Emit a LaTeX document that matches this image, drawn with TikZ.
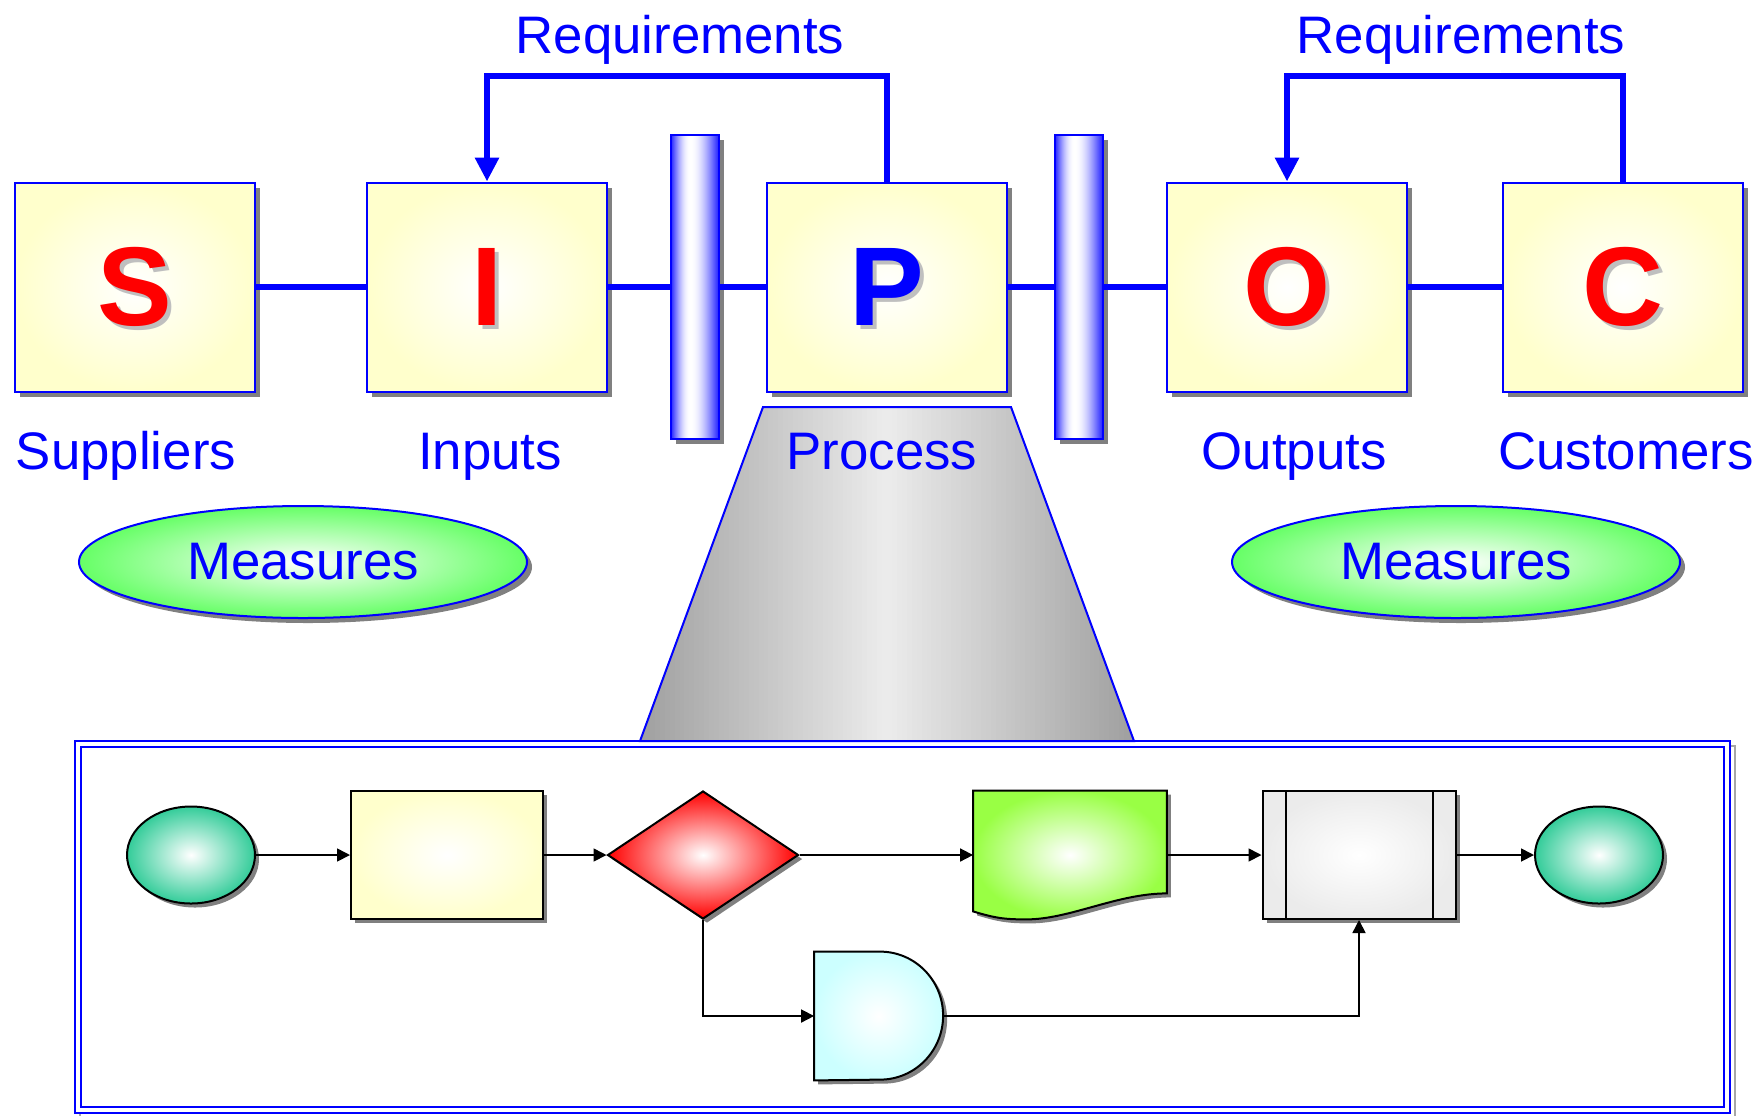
\documentclass[tikz,border=0pt]{standalone}
\usepackage{fontspec}
\setmainfont{Liberation Sans}
\usetikzlibrary{shapes, arrows.meta, positioning, calc, shadows}
\definecolor{boxYellow}{RGB}{255, 255, 204}
\definecolor{measureGreen}{RGB}{102, 255, 102}
\definecolor{termTeal}{RGB}{51, 204, 153}
\definecolor{docGreen}{RGB}{153, 255, 68}
\definecolor{waitCyan}{RGB}{204, 255, 255}
\definecolor{subGray}{RGB}{235, 235, 235}
\definecolor{funnelDark}{RGB}{160, 160, 160}
\definecolor{funnelLight}{RGB}{236, 236, 236}
\definecolor{gateBlue}{RGB}{40, 40, 255}
\definecolor{shadowGray}{RGB}{128, 128, 128}

\newcommand{\sipocletter}[2]{\makebox[0pt][l]{\hspace*{2pt}\smash{\raisebox{-2pt}{\color{black!25}#2}}}\textcolor{#1}{#2}}
\newcommand{\docoutline}{(doc.north west) -- (doc.north east) -- ([yshift=13pt]doc.south east)
  .. controls +(-25pt,0pt) and +(22pt,0pt) .. ([xshift=-22pt]doc.south)
  .. controls +(-12pt,0pt) and +(10pt,-3pt) .. ([yshift=4pt]doc.south west) -- cycle}
\newcommand{\waitoutline}{(wait.north west) -- ++(33pt,0pt)
  arc[start angle=90, end angle=-90, x radius=31.5pt, y radius=32pt] -- (wait.south west) -- cycle}

\begin{document}
\begin{tikzpicture}[
                x=0.5pt, y=-0.5pt,
                stage/.style={rectangle, draw=blue, line width=1pt, minimum width=120pt, minimum height=104.5pt,
                    inner color=white, outer color=boxYellow,
                    general shadow={fill=shadowGray, shadow xshift=2.5pt, shadow yshift=-2.5pt},
                    font=\fontsize{56pt}{60pt}\selectfont\bfseries},
                gate/.style={rectangle, outer sep=0pt, minimum width=24pt, minimum height=152pt, fill=white,
                    general shadow={fill=shadowGray, shadow xshift=2.5pt, shadow yshift=-2.5pt}},
                stagename/.style={text=blue, font=\fontsize{26.4pt}{30pt}\selectfont, inner sep=0pt, anchor=base},
                measure/.style={ellipse, draw=blue, line width=1pt, minimum width=224pt, minimum height=56pt, inner sep=0pt,
                    inner color=white, outer color=measureGreen, text=blue, font=\fontsize{26.4pt}{30pt}\selectfont,
                    general shadow={fill=shadowGray, shadow xshift=2.5pt, shadow yshift=-2.5pt}},
                link/.style={blue, line width=2.75pt},
                req/.style={blue, line width=3pt, -{Triangle[length=12pt, width=11.5pt]}},
                flow/.style={black, line width=0.85pt, -{Triangle[length=6.5pt, width=6.5pt]}},
                fshadow/.style={general shadow={fill=shadowGray, shadow xshift=2pt, shadow yshift=-2pt}},
                term/.style={ellipse, draw, line width=1pt, minimum width=64pt, minimum height=48.5pt, inner sep=0pt,
                    inner color=white, outer color=termTeal, fshadow},
                task/.style={rectangle, draw, line width=1pt, minimum width=96pt, minimum height=64pt, inner sep=0pt,
                    inner color=white, outer color=boxYellow, fshadow},
                decide/.style={diamond, draw, line width=1pt, minimum width=95.5pt, minimum height=64pt, inner sep=0pt,
                    inner color=white, outer color=red, fshadow},
                subproc/.style={rectangle, draw, line width=1pt, minimum width=96.5pt, minimum height=64pt, inner sep=0pt,
                    inner color=white, outer color=subGray, fshadow},
                slot/.style={rectangle, minimum height=64pt, inner sep=0pt}
            ]
                \useasboundingbox (0,0) rectangle (1760,1115);

                \node[stage] (sup) at (135,287) {\sipocletter{red}{S}};
                \node[stage] (inp) at (487,287) {\sipocletter{red}{I}};
                \node[stage] (pro) at (887,287) {\sipocletter{blue}{P}};
                \node[stage] (out) at (1287,287) {\sipocletter{red}{O}};
                \node[stage] (cus) at (1623,287) {\sipocletter{red}{C}};
                \node[gate] (g1) at (695,287) {};
                \node[gate] (g2) at (1079,287) {};

                % cylinder look of the two gates, strip by strip
                \foreach \g in {g1, g2} {
                    \begin{scope}
                        \clip (\g.north west) rectangle (\g.south east);
                        \foreach \i in {0,...,47} {
                            \pgfmathsetmacro{\p}{\i < 19 ? 100*sin(90*\i/19) : 100*sin(90*(47-\i)/28)}
                            \fill[white!\p!gateBlue] ($(\g.north west)+(\i,0)$) rectangle ++(1.6,304);
                        }
                    \end{scope}
                    \draw[blue, line width=1pt] (\g.north west) rectangle (\g.south east);
                }

                \draw[link] (sup.east) -- (inp.west);
                \draw[link] (inp.east) -- (g1.west);
                \draw[link] (g1.east) -- (pro.west);
                \draw[link] (pro.east) -- (g2.west);
                \draw[link] (g2.east) -- (out.west);
                \draw[link] (out.east) -- (cus.west);

                \draw[req] (pro.north) -- (pro.north |- 0,76) -| (inp.north);
                \draw[req] (cus.north) -- (cus.north |- 0,76) -| (out.north);
                \node[stagename] (req1) at (680,53) {Requirements};
                \node[stagename] (req2) at (1461,53) {Requirements};

                \draw[shadowGray!70, line width=1.2pt] (80,746) rectangle (1735,1118);
                \draw[blue, line width=1.2pt, fill=white] (75,741) rectangle (1730,1113);
                \draw[blue, line width=1.2pt] (81,747) rectangle (1724,1107);

                \begin{scope}
                    \clip (763,407) -- (1011,407) -- (1134,741) -- (640,741) -- cycle;
                    \foreach \i in {0,...,99} {
                        \pgfmathsetmacro{\p}{100 - abs(2*\i - 99)*100/99}
                        \fill[funnelLight!\p!funnelDark] (640+\i*4.94,407) rectangle ++(6,334);
                    }
                \end{scope}
                \draw[blue, line width=1pt] (763,407) -- (1011,407) -- (1134,741) -- (640,741) -- cycle;

                \node[stagename] (supl) at (126,469) {Suppliers};
                \node[stagename] (inpl) at (490,469) {Inputs};
                \node[stagename] (prol) at (882,469) {Process};
                \node[stagename] (outl) at (1294,469) {Outputs};
                \node[stagename] (cusl) at (1626,469) {Customers};

                \node[measure] (m1) at (303,562) {Measures};
                \node[measure] (m2) at (1456,562) {Measures};

                \node[term] (start) at (191,855) {};
                \node[task] (task) at (447,855) {};
                \node[decide] (dec) at (703,855) {};
                \node[slot, minimum width=96.5pt] (doc) at (1070,855) {};
                \node[subproc] (sub) at (1359,855) {};
                \node[term] (stop) at (1599,855) {};
                \node[slot, minimum width=64.5pt] (wait) at (879,1016) {};

                \draw[line width=1pt] ([xshift=12pt]sub.north west) -- ([xshift=12pt]sub.south west)
                    ([xshift=-12pt]sub.north east) -- ([xshift=-12pt]sub.south east);

                \begin{scope}[transform canvas={xshift=2pt, yshift=-2pt}]
                    \fill[shadowGray] \docoutline;
                    \fill[shadowGray] \waitoutline;
                \end{scope}
                \shadedraw[inner color=white, outer color=docGreen, line width=1pt] \docoutline;
                \shadedraw[inner color=white, outer color=waitCyan, line width=1pt] \waitoutline;

                \draw[flow] (start) -- (task);
                \draw[flow] (task) -- (dec);
                \draw[flow] (dec) -- (doc);
                \draw[flow] (doc) -- (sub);
                \draw[flow] (sub) -- (stop);
                \draw[flow] (dec.south) |- (wait.west);
                \draw[flow] (wait.east) -| (sub.south);
            \end{tikzpicture}
\end{document}
